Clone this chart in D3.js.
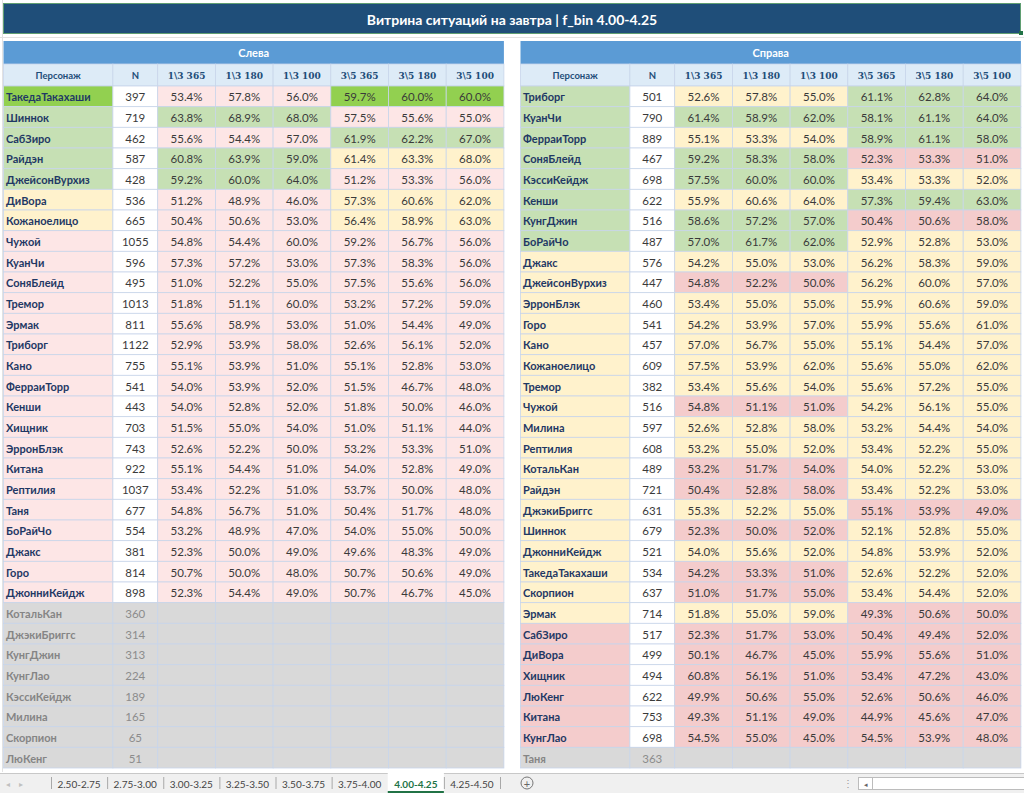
<!DOCTYPE html>
<html>
<head>
<meta charset="utf-8">
<title>Витрина ситуаций на завтра</title>
<script src="https://cdn.jsdelivr.net/npm/d3@7"></script>
<style>
  body { margin: 0; background: #fff; }
  svg { display: block; font-family: Lato, "Open Sans", sans-serif; }
</style>
</head>
<body>
<div id="sheet"></div>
<script>
// ---- data ----
const title = "Витрина ситуаций на завтра | f_bin 4.00-4.25";
const columns = ["Персонаж", "N", "1\\3 365", "1\\3 180", "1\\3 100", "3\\5 365", "3\\5 180", "3\\5 100"];
const sheetTabs = ["2.50-2.75", "2.75-3.00", "3.00-3.25", "3.25-3.50", "3.50-3.75", "3.75-4.00", "4.00-4.25", "4.25-4.50"];
const activeTab = "4.00-4.25";

// left table (Слева)
const leftNames = ["ТакедаТакахаши", "Шиннок", "СабЗиро", "Райдэн", "ДжейсонВурхиз", "ДиВора", "Кожаноелицо",
  "Чужой", "КуанЧи", "СоняБлейд", "Тремор", "Эрмак", "Триборг", "Кано", "ФерраиТорр", "Кенши", "Хищник",
  "ЭрронБлэк", "Китана", "Рептилия", "Таня", "БоРайЧо", "Джакс", "Горо", "ДжонниКейдж",
  "КотальКан", "ДжэкиБриггс", "КунгДжин", "КунгЛао", "КэссиКейдж", "Милина", "Скорпион", "ЛюКенг"];
const leftN = [397, 719, 462, 587, 428, 536, 665, 1055, 596, 495, 1013, 811, 1122, 755, 541, 443, 703,
  743, 922, 1037, 677, 554, 381, 814, 898, 360, 314, 313, 224, 189, 165, 65, 51];
const leftRates = [
  [53.4, 57.8, 56.0, 59.7, 60.0, 60.0],
  [63.8, 68.9, 68.0, 57.5, 55.6, 55.0],
  [55.6, 54.4, 57.0, 61.9, 62.2, 67.0],
  [60.8, 63.9, 59.0, 61.4, 63.3, 68.0],
  [59.2, 60.0, 64.0, 51.2, 53.3, 56.0],
  [51.2, 48.9, 46.0, 57.3, 60.6, 62.0],
  [50.4, 50.6, 53.0, 56.4, 58.9, 63.0],
  [54.8, 54.4, 60.0, 59.2, 56.7, 56.0],
  [57.3, 57.2, 53.0, 57.3, 58.3, 56.0],
  [51.0, 52.2, 55.0, 57.5, 55.6, 56.0],
  [51.8, 51.1, 60.0, 53.2, 57.2, 59.0],
  [55.6, 58.9, 53.0, 51.0, 54.4, 49.0],
  [52.9, 53.9, 58.0, 52.6, 56.1, 52.0],
  [55.1, 53.9, 51.0, 55.1, 52.8, 53.0],
  [54.0, 53.9, 52.0, 51.5, 46.7, 48.0],
  [54.0, 52.8, 52.0, 51.8, 50.0, 46.0],
  [51.5, 55.0, 54.0, 51.0, 51.1, 44.0],
  [52.6, 52.2, 50.0, 53.2, 53.3, 51.0],
  [55.1, 54.4, 51.0, 54.0, 52.8, 49.0],
  [53.4, 52.2, 51.0, 53.7, 50.0, 48.0],
  [54.8, 56.7, 51.0, 50.4, 51.7, 48.0],
  [53.2, 48.9, 47.0, 54.0, 55.0, 50.0],
  [52.3, 50.0, 49.0, 49.6, 48.3, 49.0],
  [50.7, 50.0, 48.0, 50.7, 50.6, 49.0],
  [52.3, 54.4, 49.0, 50.7, 46.7, 45.0],
  null, null, null, null, null, null, null, null];
// tiers: A best, G good, Y middle, P / R weak, X not enough data
const leftTierName = ["A", "G", "G", "G", "G", "Y", "Y", "P", "P", "P", "P", "P", "P", "P", "P", "P", "P",
  "P", "P", "P", "P", "P", "P", "P", "P", "X", "X", "X", "X", "X", "X", "X", "X"];
const leftTier13 = ["P", "G", "P", "G", "G", "P", "P", "P", "P", "P", "P", "P", "P", "P", "P", "P", "P",
  "P", "P", "P", "P", "P", "P", "P", "P", "X", "X", "X", "X", "X", "X", "X", "X"];
const leftTier35 = ["A", "P", "G", "Y", "P", "Y", "Y", "P", "P", "P", "P", "P", "P", "P", "P", "P", "P",
  "P", "P", "P", "P", "P", "P", "P", "P", "X", "X", "X", "X", "X", "X", "X", "X"];

// right table (Справа)
const rightNames = ["Триборг", "КуанЧи", "ФерраиТорр", "СоняБлейд", "КэссиКейдж", "Кенши", "КунгДжин", "БоРайЧо",
  "Джакс", "ДжейсонВурхиз", "ЭрронБлэк", "Горо", "Кано", "Кожаноелицо", "Тремор", "Чужой", "Милина",
  "Рептилия", "КотальКан", "Райдэн", "ДжэкиБриггс", "Шиннок", "ДжонниКейдж", "ТакедаТакахаши", "Скорпион",
  "Эрмак", "СабЗиро", "ДиВора", "Хищник", "ЛюКенг", "Китана", "КунгЛао", "Таня"];
const rightN = [501, 790, 889, 467, 698, 622, 516, 487, 576, 447, 460, 541, 457, 609, 382, 516, 597,
  608, 489, 721, 631, 679, 521, 534, 637, 714, 517, 499, 494, 622, 753, 698, 363];
const rightRates = [
  [52.6, 57.8, 55.0, 61.1, 62.8, 64.0],
  [61.4, 58.9, 62.0, 58.1, 61.1, 64.0],
  [55.1, 53.3, 54.0, 58.9, 61.1, 58.0],
  [59.2, 58.3, 58.0, 52.3, 53.3, 51.0],
  [57.5, 60.0, 60.0, 53.4, 53.3, 52.0],
  [55.9, 60.6, 64.0, 57.3, 59.4, 63.0],
  [58.6, 57.2, 57.0, 50.4, 50.6, 58.0],
  [57.0, 61.7, 62.0, 52.9, 52.8, 53.0],
  [54.2, 55.0, 53.0, 56.2, 58.3, 59.0],
  [54.8, 52.2, 50.0, 56.2, 60.0, 57.0],
  [53.4, 55.0, 55.0, 55.9, 60.6, 59.0],
  [54.2, 53.9, 57.0, 55.9, 55.6, 61.0],
  [57.0, 56.7, 55.0, 55.1, 54.4, 57.0],
  [57.5, 53.9, 62.0, 55.6, 55.0, 62.0],
  [53.4, 55.6, 54.0, 55.6, 57.2, 55.0],
  [54.8, 51.1, 51.0, 54.2, 56.1, 55.0],
  [52.6, 52.8, 58.0, 53.2, 54.4, 54.0],
  [53.2, 55.0, 52.0, 53.4, 52.2, 55.0],
  [53.2, 51.7, 54.0, 54.0, 52.2, 53.0],
  [50.4, 52.8, 58.0, 53.4, 52.2, 53.0],
  [55.3, 52.2, 55.0, 55.1, 53.9, 49.0],
  [52.3, 50.0, 52.0, 52.1, 52.8, 55.0],
  [54.0, 55.6, 52.0, 54.8, 53.9, 52.0],
  [54.2, 53.3, 51.0, 52.6, 52.2, 52.0],
  [51.0, 51.7, 55.0, 53.4, 54.4, 52.0],
  [51.8, 55.0, 59.0, 49.3, 50.6, 50.0],
  [52.3, 51.7, 53.0, 50.4, 49.4, 52.0],
  [50.1, 46.7, 45.0, 55.9, 55.6, 51.0],
  [60.8, 56.1, 51.0, 53.4, 47.2, 43.0],
  [49.9, 50.6, 55.0, 52.6, 50.6, 46.0],
  [49.3, 51.1, 49.0, 44.9, 45.6, 47.0],
  [54.5, 55.0, 45.0, 54.5, 53.9, 48.0],
  null];
const rightTierName = ["G", "G", "G", "G", "G", "G", "G", "G",
  "Y", "Y", "Y", "Y", "Y", "Y", "Y", "Y", "Y", "Y", "Y", "Y", "Y", "Y", "Y", "Y", "Y", "Y",
  "R", "R", "R", "R", "R", "R", "X"];
const rightTier13 = ["Y", "G", "Y", "G", "G", "Y", "G", "G",
  "Y", "R", "Y", "Y", "Y", "Y", "Y", "R", "Y", "Y", "R", "R", "Y", "R", "Y", "R", "R", "Y",
  "R", "R", "R", "R", "R", "R", "X"];
const rightTier35 = ["G", "G", "G", "R", "Y", "G", "R", "Y",
  "Y", "Y", "Y", "Y", "Y", "Y", "Y", "Y", "Y", "Y", "Y", "Y", "R", "Y", "Y", "Y", "Y", "R",
  "R", "R", "R", "R", "R", "R", "X"];

// ---- drawing ----
const W = 1024, H = 793;
const svg = d3.select("#sheet").append("svg").attr("width", W).attr("height", H);

const tierFill = d3.scaleOrdinal()
  .domain(["A", "G", "Y", "P", "R", "X", "W"])
  .range(["#92d050", "#c6e0b4", "#fff2cc", "#fde6e6", "#f4cccc", "#d9d9d9", "#ffffff"]);
const pct = d3.format(".1f");
const gridColor = "#c8d5ea";

// faint excel grid behind everything
const bg = svg.append("g").attr("stroke", "#e2e2e2").attr("shape-rendering", "crispEdges");
bg.append("line").attr("x1", 0).attr("x2", W).attr("y1", 37.5).attr("y2", 37.5);
bg.append("line").attr("x1", 2.5).attr("x2", 2.5).attr("y1", 0).attr("y2", 772);

// title bar
svg.append("rect").attr("x", 3.5).attr("y", 3.5).attr("width", 1017).attr("height", 30)
  .attr("fill", "#1f4e79").attr("stroke", "#5f9e72").attr("stroke-width", 1);
svg.append("rect").attr("x", 1019).attr("y", 31).attr("width", 4).attr("height", 4).attr("fill", "#217346");
svg.append("text").attr("x", 512).attr("y", 19).attr("text-anchor", "middle")
  .attr("dominant-baseline", "central").attr("fill", "#fff")
  .attr("font-weight", 700).attr("font-size", 14).text(title);

const colW = [109.4, 44.8, 57.7, 57.7, 57.7, 57.7, 57.7, 57.7];
const colX = [0, ...d3.cumsum(colW)];
const tableW = colX[colX.length - 1];

function drawTable(x0, caption, names, counts, rates, tName, t13, t35) {
  const g = svg.append("g").attr("transform", `translate(${x0},0)`);
  const y = d3.scaleBand().domain(d3.range(names.length)).range([86, 768]);

  g.append("rect").attr("x", 0).attr("y", 41).attr("width", tableW).attr("height", 23).attr("fill", "#5b9bd5");
  g.append("text").attr("x", tableW / 2).attr("y", 52.5).attr("text-anchor", "middle")
    .attr("dominant-baseline", "central").attr("fill", "#fff").attr("font-weight", 700)
    .attr("font-size", 11).text(caption);

  const head = g.append("g");
  head.selectAll("rect").data(columns).join("rect")
    .attr("x", (d, i) => colX[i]).attr("y", 64).attr("width", (d, i) => colW[i]).attr("height", 22)
    .attr("fill", "#ddebf7").attr("stroke", gridColor).attr("stroke-width", 0.8);
  head.selectAll("text").data(columns).join("text")
    .attr("x", (d, i) => colX[i] + colW[i] / 2).attr("y", 75.5)
    .attr("text-anchor", "middle").attr("dominant-baseline", "central")
    .attr("fill", "#1f4e79").attr("font-weight", 700)
    .attr("font-family", (d, i) => i > 1 ? "'DejaVu Serif', serif" : null)
    .attr("font-size", (d, i) => i > 1 ? 9 : 9.5)
    .text(d => d);

  const rows = g.selectAll("g.row").data(names.map((name, i) => ({
      name, n: counts[i], rates: rates[i], tn: tName[i], t13: t13[i], t35: t35[i], i})))
    .join("g").attr("class", "row")
    .attr("transform", d => `translate(0,${y(d.i)})`);

  const cellTier = (d, c) => c === 0 ? d.tn : c === 1 ? (d.tn === "X" ? "X" : "W") : c < 5 ? d.t13 : d.t35;

  rows.selectAll("rect").data(d => columns.map((c, ci) => ({d, ci}))).join("rect")
    .attr("x", e => colX[e.ci]).attr("y", 0).attr("width", e => colW[e.ci]).attr("height", y.bandwidth())
    .attr("fill", e => tierFill(cellTier(e.d, e.ci)))
    .attr("stroke", gridColor).attr("stroke-width", 0.8);

  const mid = y.bandwidth() / 2 + 0.5;
  rows.append("text").attr("x", 2.5).attr("y", mid).attr("dominant-baseline", "central")
    .attr("font-weight", 700).attr("font-size", 11)
    .attr("fill", d => d.tn === "X" ? "#858585" : "#1f3864").text(d => d.name);
  rows.append("text").attr("x", colX[1] + colW[1] / 2).attr("y", mid)
    .attr("text-anchor", "middle").attr("dominant-baseline", "central").attr("font-size", 11.5)
    .attr("fill", d => d.tn === "X" ? "#8c8c8c" : "#3a3a3a").text(d => d.n);
  rows.filter(d => d.rates).selectAll("text.rate").data(d => d.rates).join("text").attr("class", "rate")
    .attr("x", (v, k) => colX[k + 2] + colW[k + 2] / 2).attr("y", mid)
    .attr("text-anchor", "middle").attr("dominant-baseline", "central").attr("font-size", 11.5)
    .attr("fill", "#3a3a3a").text(v => pct(v) + "%");
}

drawTable(3.5, "Слева", leftNames, leftN, leftRates, leftTierName, leftTier13, leftTier35);
drawTable(520.5, "Справа", rightNames, rightN, rightRates, rightTierName, rightTier13, rightTier35);

// sheet tabs bar
const bar = svg.append("g");
bar.append("rect").attr("x", 0).attr("y", 773).attr("width", W).attr("height", 20).attr("fill", "#f0f0f0");
bar.append("line").attr("x1", 0).attr("x2", W).attr("y1", 773.5).attr("y2", 773.5).attr("stroke", "#c8c8c8");
bar.append("text").attr("x", 6).attr("y", 784).attr("dominant-baseline", "central")
  .attr("font-size", 8).attr("fill", "#c0c0c0").text("◂");
bar.append("text").attr("x", 19).attr("y", 784).attr("dominant-baseline", "central")
  .attr("font-size", 8).attr("fill", "#c0c0c0").text("▸");

const tx = d3.scaleBand().domain(sheetTabs).range([51, 500]);
const tabs = bar.selectAll("g.tab").data(sheetTabs).join("g").attr("class", "tab")
  .attr("transform", d => `translate(${tx(d)},773)`);
tabs.filter(d => d === activeTab).append("rect")
  .attr("x", 0).attr("y", 0).attr("width", tx.bandwidth()).attr("height", 20).attr("fill", "#fff");
tabs.filter(d => d === activeTab).append("rect")
  .attr("x", 0).attr("y", 18).attr("width", tx.bandwidth()).attr("height", 2).attr("fill", "#217346");
tabs.append("line").attr("x1", 0.5).attr("x2", 0.5).attr("y1", 4).attr("y2", 16)
  .attr("stroke", "#a8a8a8").attr("stroke-width", d => d === activeTab ? 0 : 1);
tabs.append("text").attr("x", tx.bandwidth() / 2).attr("y", 10.5).attr("text-anchor", "middle")
  .attr("dominant-baseline", "central").attr("font-size", 10)
  .attr("font-weight", d => d === activeTab ? 700 : 400)
  .attr("fill", d => d === activeTab ? "#217346" : "#444").text(d => d);
bar.append("line").attr("x1", 500.5).attr("x2", 500.5).attr("y1", 777).attr("y2", 789).attr("stroke", "#a8a8a8");
bar.append("circle").attr("cx", 527).attr("cy", 783).attr("r", 6).attr("fill", "none").attr("stroke", "#777");
bar.append("text").attr("x", 527).attr("y", 783.5).attr("text-anchor", "middle")
  .attr("dominant-baseline", "central").attr("font-size", 11).attr("fill", "#666").text("+");
bar.append("text").attr("x", 848).attr("y", 783).attr("text-anchor", "middle")
  .attr("dominant-baseline", "central").attr("font-size", 10).attr("fill", "#999").text("⋮");
bar.append("rect").attr("x", 858.5).attr("y", 777.5).attr("width", 170).attr("height", 12)
  .attr("fill", "#fff").attr("stroke", "#bcbcbc");
bar.append("line").attr("x1", 872.5).attr("x2", 872.5).attr("y1", 778).attr("y2", 789).attr("stroke", "#bcbcbc");
bar.append("text").attr("x", 865.5).attr("y", 783.5).attr("text-anchor", "middle")
  .attr("dominant-baseline", "central").attr("font-size", 7).attr("fill", "#666").text("◂");
</script>
</body>
</html>
